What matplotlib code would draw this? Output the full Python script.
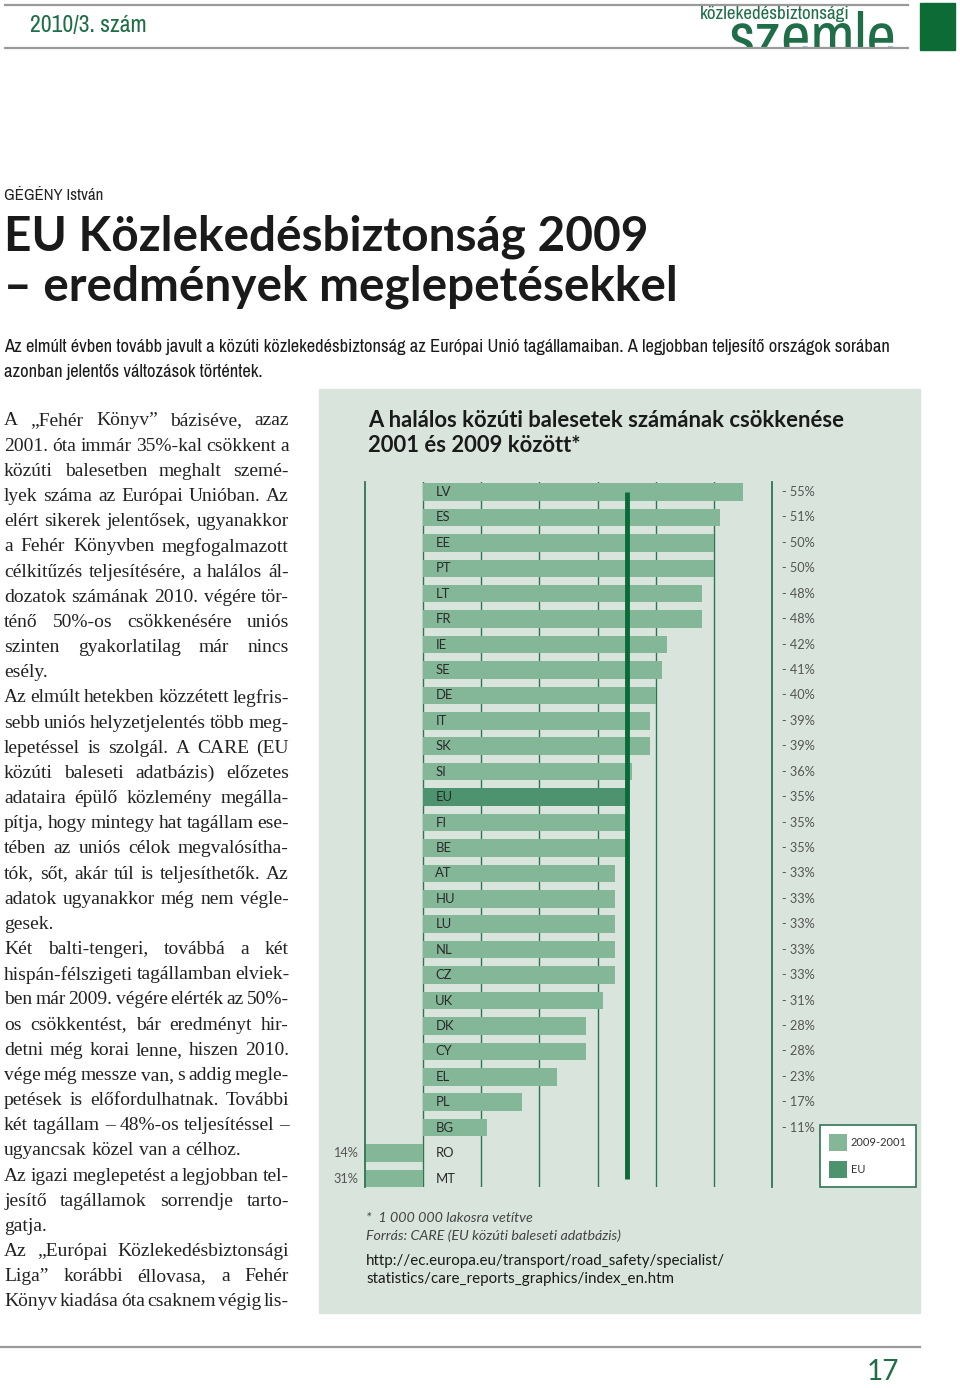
import matplotlib
matplotlib.use("Agg")
import matplotlib.pyplot as plt
from matplotlib.patches import Rectangle
from matplotlib.lines import Line2D
from matplotlib import transforms, font_manager

# adatok: halálos balesetek csökkenése 2001 és 2009 között (%)
countries = ['LV', 'ES', 'EE', 'PT', 'LT', 'FR', 'IE', 'SE', 'DE', 'IT', 'SK', 'SI', 'EU', 'FI',
             'BE', 'AT', 'HU', 'LU', 'NL', 'CZ', 'UK', 'DK', 'CY', 'EL', 'PL', 'BG', 'RO', 'MT']
decrease = [55, 51, 50, 50, 48, 48, 42, 41, 40, 39, 39, 36, 35, 35,
            35, 33, 33, 33, 33, 33, 31, 28, 28, 23, 17, 11, -14, -31]
legend_labels = ['2009-2001', 'EU']

W, H = 960, 1388
GREEN = '#1f6e47'
PANEL = '#d9e5dc'
BAR = '#84b698'
BAR_EU = '#4d9370'
GRID = '#2f7552'
EU_LINE = '#0b6a3a'
SANS = ['Lato', 'DejaVu Sans']
SERIF = ['Liberation Serif', 'DejaVu Serif']


def find_narrow():
    """keskeny (condensed) betűtípus keresése, ha van telepítve"""
    best = None
    for f in font_manager.fontManager.ttflist:
        tag = f.name + ' ' + str(f.stretch)
        if 'Narrow' in tag or 'SemiCondensed' in f.fname or f.stretch == 'semi-condensed':
            rank = 0
        elif 'Condensed' in tag or f.stretch == 'condensed':
            rank = 1
        else:
            continue
        if best is None or rank < best[0]:
            best = (rank, f.name, f.stretch)
    if best is None:
        return SANS, 'normal'
    return [best[1]] + SANS, best[2]


NARROW, NSTRETCH = find_narrow()

fig = plt.figure(figsize=(W / 100, H / 100), dpi=100)
r = fig.canvas.get_renderer()


def fx(x):
    return x / W


def fy(y):
    return 1 - y / H


def put(x, y, s, px, width=None, **kw):
    """szöveg pixel-koordinátákban, opcionálisan adott szélességre skálázva"""
    kw.setdefault('va', 'center')
    kw.setdefault('family', SANS)
    t = fig.text(fx(x), fy(y), s, fontsize=px * 0.72, **kw)
    if width:
        w = t.get_window_extent(r).width
        t.set_fontsize(t.get_fontsize() * width / w)
    return t


def nput(x, y, s, px, width=None, **kw):
    return put(x, y, s, px, width, family=NARROW, stretch=NSTRETCH, **kw)


def hline(x0, x1, y, **kw):
    fig.add_artist(Line2D([fx(x0), fx(x1)], [fy(y), fy(y)], transform=fig.transFigure, **kw))


# fejléc
hline(5, 908, 5, color='#9a9a9a', lw=1.6)
nput(30, 26, '2010/3. szám', 22, width=117, color=GREEN)
nput(700, 14, 'közlekedésbiztonsági', 15, width=150, color=GREEN)
nput(729, 58, 'szemle', 60, width=168, color=GREEN, va='baseline')
fig.add_artist(Rectangle((fx(690), fy(66)), 225 / W, 17.5 / H, transform=fig.transFigure,
                         color='white', zorder=5))
hline(5, 908, 48, color='#9a9a9a', lw=1.6, zorder=6)
fig.add_artist(Rectangle((fx(920), fy(50)), 35 / W, 47 / H, transform=fig.transFigure,
                         color='#0d6b35'))

# cím
nput(4, 196, 'GÉGÉNY István', 16, width=99, color='#222')
t = put(4, 237, 'EU Közlekedésbiztonság 2009', 50, width=644, color='#1a1a1a', weight='bold')
put(4, 287, '– eredmények meglepetésekkel', t.get_fontsize() / 0.72, color='#1a1a1a',
    weight='bold')
t = nput(4, 347, 'Az elmúlt évben tovább javult a közúti közlekedésbiztonság az Európai Unió '
         'tagállamaiban. A legjobban teljesítő országok sorában', 16, width=882, color='#1a1a1a')
nput(4, 372, 'azonban jelentős változások történtek.', t.get_fontsize() / 0.72, color='#1a1a1a')

# hasábszöveg (sorkizárt)
paras = [
    ['A „Fehér Könyv” báziséve, azaz',
     '2001. óta immár 35%-kal csökkent a',
     'közúti balesetben meghalt szemé-',
     'lyek száma az Európai Unióban. Az',
     'elért sikerek jelentősek, ugyanakkor',
     'a Fehér Könyvben megfogalmazott',
     'célkitűzés teljesítésére, a halálos ál-',
     'dozatok számának 2010. végére tör-',
     'ténő 50%-os csökkenésére uniós',
     'szinten gyakorlatilag már nincs',
     'esély.'],
    ['Az elmúlt hetekben közzétett legfris-',
     'sebb uniós helyzetjelentés több meg-',
     'lepetéssel is szolgál. A CARE (EU',
     'közúti baleseti adatbázis) előzetes',
     'adataira épülő közlemény megálla-',
     'pítja, hogy mintegy hat tagállam ese-',
     'tében az uniós célok megvalósítha-',
     'tók, sőt, akár túl is teljesíthetők. Az',
     'adatok ugyanakkor még nem végle-',
     'gesek.'],
    ['Két balti-tengeri, továbbá a két',
     'hispán-félszigeti tagállamban elviek-',
     'ben már 2009. végére elérték az 50%-',
     'os csökkentést, bár eredményt hir-',
     'detni még korai lenne, hiszen 2010.',
     'vége még messze van, s addig megle-',
     'petések is előfordulhatnak. További',
     'két tagállam – 48%-os teljesítéssel –',
     'ugyancsak közel van a célhoz.'],
    ['Az igazi meglepetést a legjobban tel-',
     'jesítő tagállamok sorrendje tarto-',
     'gatja.'],
    ['Az „Európai Közlekedésbiztonsági',
     'Liga” korábbi éllovasa, a Fehér',
     'Könyv kiadása óta csaknem végig lis-'],
]


def body(paras, x0, x1, y0, step, px):
    fs = px * 0.72
    probe = fig.text(0, 0, 'a a', fontsize=fs, family=SERIF)
    sp = probe.get_window_extent(r).width
    probe.set_text('aa')
    sp -= probe.get_window_extent(r).width
    probe.remove()
    y = y0
    colw = x1 - x0
    for pi, lines in enumerate(paras):
        for li, line in enumerate(lines):
            words = line.split(' ')
            last = li == len(lines) - 1 and pi < len(paras) - 1
            ts = [fig.text(0, fy(y), w, fontsize=fs, family=SERIF, color='#222', va='center')
                  for w in words]
            ws = [t.get_window_extent(r).width for t in ts]
            n = len(words)
            if not last and n > 1:
                minw = sum(ws) + (n - 1) * 0.5 * sp
                if minw > colw:
                    k = (colw - (n - 1) * 0.5 * sp) / sum(ws)
                    for t in ts:
                        t.set_fontsize(fs * k)
                    ws = [t.get_window_extent(r).width for t in ts]
                gap = (colw - sum(ws)) / (n - 1)
            else:
                gap = sp
            x = x0
            for t, w in zip(ts, ws):
                t.set_x(fx(x))
                x += w + gap
            y += step


body(paras, 4, 289, 421, 25.17, 19.5)

# diagram háttér
fig.add_artist(Rectangle((fx(319), fy(1313.3)), 601 / W, 924.3 / H, transform=fig.transFigure,
                         color=PANEL, zorder=-1))
t = put(368, 421, 'A halálos közúti balesetek számának csökkenése', 22, width=476,
        color='#1a1a1a', weight='bold')
put(368, 446, '2001 és 2009 között*', t.get_fontsize() / 0.72, color='#1a1a1a', weight='bold')

# diagram
ax = fig.add_axes([364.5 / W, 1 - 1187.3 / H, 407.8 / W, 705.6 / H])
ax.patch.set_visible(False)
ypos = list(range(len(countries)))
eu_idx = countries.index('EU')
colors = [BAR_EU if c == 'EU' else BAR for c in countries]
bars = ax.barh(ypos, decrease, height=0.69, color=colors, zorder=2)

for v in range(0, 60, 10):
    ax.axvline(v, color=GRID, lw=1.0, zorder=1)
ax.vlines(decrease[eu_idx], 0, len(countries) - 1, color=EU_LINE, lw=3.5, zorder=3)

ax.set_xlim(-10, 60)
ax.set_ylim(len(countries) - 1 + 0.346, -0.405)
ax.set_xticks([])
ax.set_yticks([])
for s in ['top', 'bottom']:
    ax.spines[s].set_visible(False)
for s in ['left', 'right']:
    ax.spines[s].set_color(GRID)
    ax.spines[s].set_linewidth(1.3)

code_tr = transforms.offset_copy(ax.transData, fig=fig, x=12.5, units='dots')
side_tr = transforms.blended_transform_factory(ax.transAxes, ax.transData)
for i, (c, v) in enumerate(zip(countries, decrease)):
    ax.text(0, i, c, transform=code_tr, va='center', ha='left', fontsize=9.4,
            family=SANS, color='#2a2a2a', zorder=4)
    if v >= 0:
        ax.text(1.023, i, f'- {v}%', transform=side_tr, va='center', ha='left',
                fontsize=9.2, family=SANS, color='#555555')
    else:
        ax.text(-0.016, i, f'{-v}%', transform=side_tr, va='center', ha='right',
                fontsize=9.2, family=SANS, color='#555555')

leg = ax.legend([bars[0], bars[eu_idx]], legend_labels, loc='lower left',
                bbox_to_anchor=(820.3 / W, 1 - 1187.3 / H), bbox_transform=fig.transFigure,
                borderaxespad=0, fancybox=False, framealpha=1, facecolor='white',
                edgecolor=GRID, prop={'family': SANS, 'size': 8.0},
                handlelength=1.6, handleheight=2.05, handletextpad=0.35,
                borderpad=0.8, labelspacing=0.85)
leg.get_frame().set_linewidth(1.2)
for txt in leg.get_texts():
    txt.set_color('#333333')

# lábjegyzet
t = put(366, 1236, 'Forrás: CARE (EU közúti baleseti adatbázis)', 14, width=255,
        color='#444444', style='italic')
put(366, 1218, '*  1 000 000 lakosra vetítve', t.get_fontsize() / 0.72, color='#444444',
    style='italic')
t = put(366, 1261, 'http://ec.europa.eu/transport/road_safety/specialist/', 15, width=357,
        color='#1a1a1a')
put(366, 1279, 'statistics/care_reports_graphics/index_en.htm', t.get_fontsize() / 0.72,
    color='#1a1a1a')

# lábléc
hline(0, 920, 1346.7, color='#9a9a9a', lw=1.6)
put(883, 1372, '17', 28, color=GREEN, ha='center')

fig.savefig('out.png', dpi=100)
